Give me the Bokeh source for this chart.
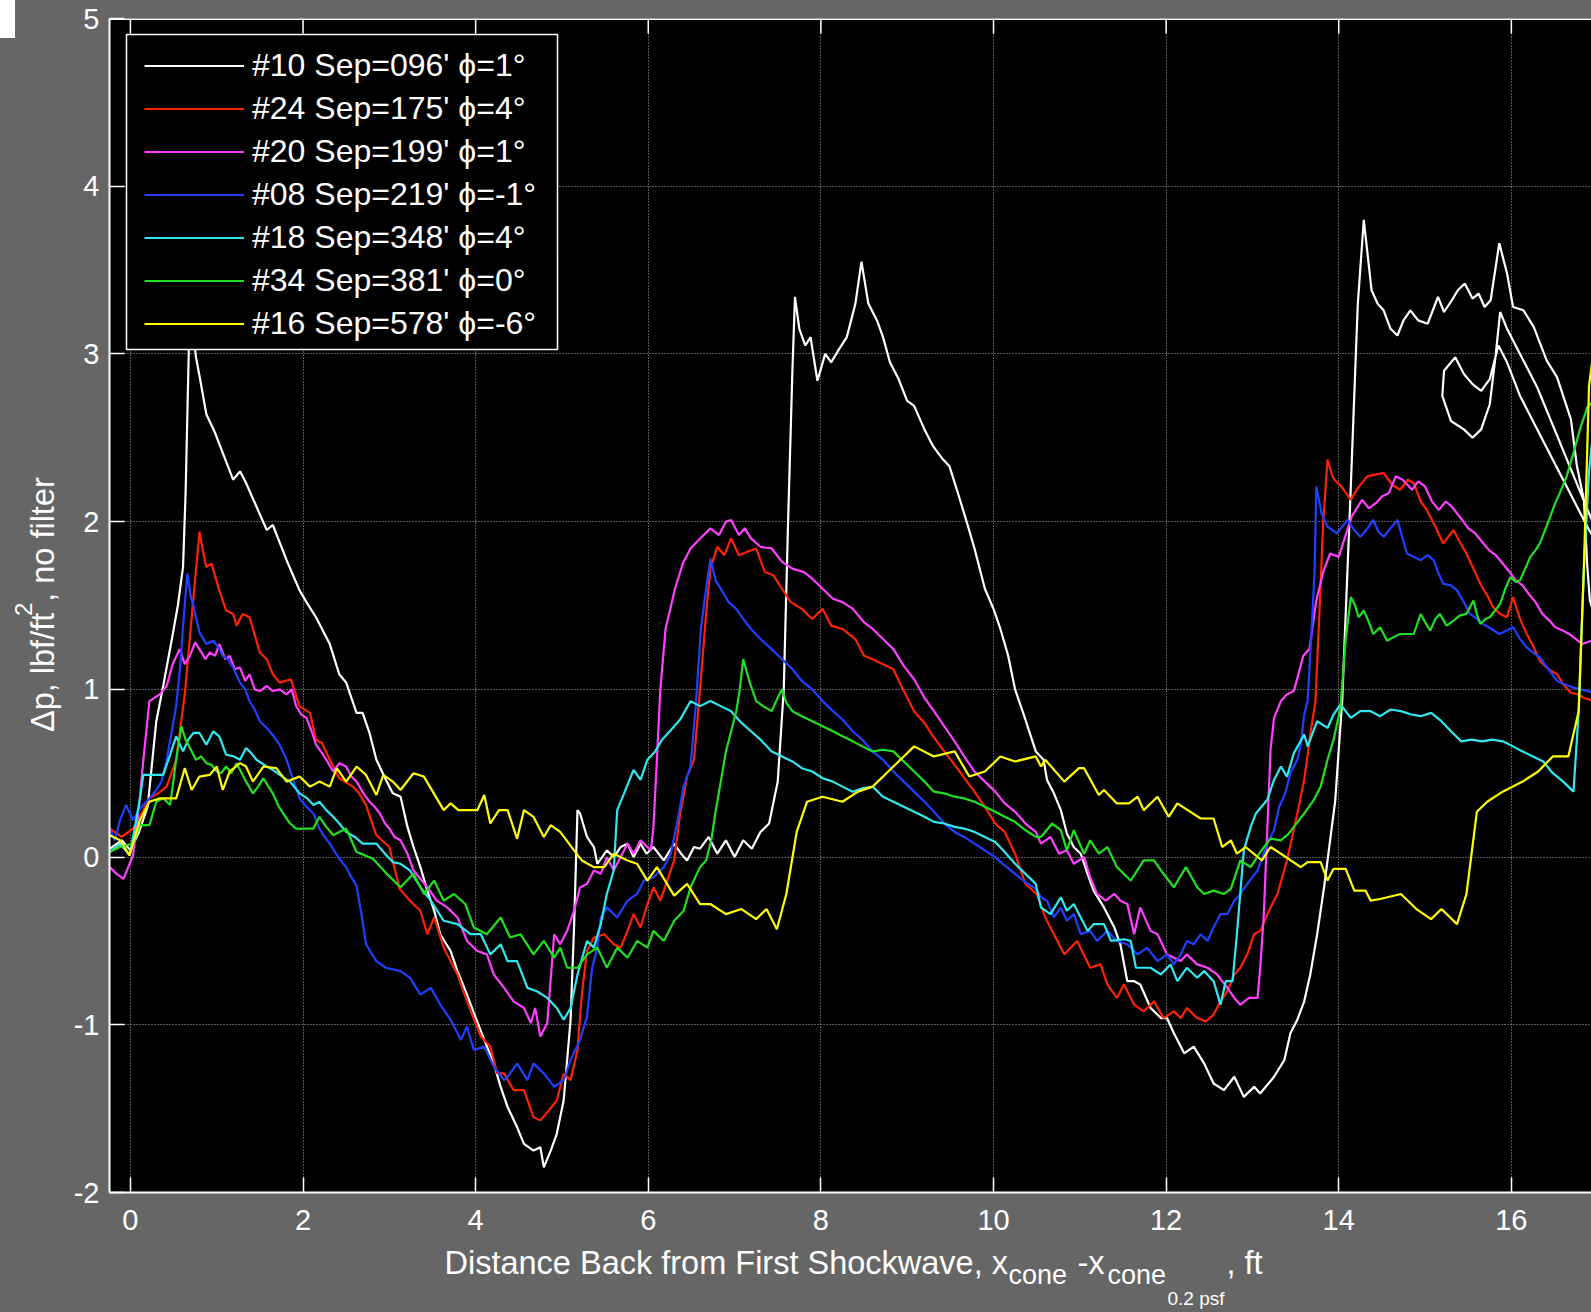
import math
from bokeh.plotting import figure
from bokeh.layouts import column, row
from bokeh.models import (Range1d, FixedTicker, Legend, LegendItem, BoxAnnotation, Span)
from bokeh.core.properties import value
from bokeh.embed import file_html
from bokeh.resources import INLINE

# ---------------- data: [x, dp] pairs ----------------
white_xy = [[-0.24,0.05],[-0.1,0.1],[0.0,0.04],[0.1,0.15],[0.2,0.3],[0.3,0.81],[0.38,1.02],[0.47,1.27],[0.55,1.5],[0.61,1.73],[0.64,2.18],[0.66,2.64],[0.68,3.1],[0.71,3.2],[0.76,2.98],[0.8,2.87],[0.88,2.64],[0.98,2.53],[1.07,2.41],[1.19,2.25],[1.27,2.3],[1.34,2.23],[1.46,2.09],[1.58,1.95],[1.65,1.98],[1.81,1.77],[1.96,1.59],[2.04,1.52],[2.15,1.43],[2.31,1.27],[2.42,1.09],[2.5,1.04],[2.62,0.86],[2.69,0.86],[2.77,0.74],[2.85,0.58],[2.97,0.45],[3.04,0.38],[3.13,0.36],[3.21,0.18],[3.28,0.06],[3.36,-0.06],[3.44,-0.2],[3.52,-0.32],[3.59,-0.46],[3.71,-0.56],[3.79,-0.68],[3.9,-0.82],[3.98,-0.93],[4.1,-1.09],[4.21,-1.23],[4.29,-1.37],[4.37,-1.49],[4.48,-1.61],[4.56,-1.71],[4.67,-1.75],[4.75,-1.73],[4.79,-1.85],[4.87,-1.75],[4.94,-1.65],[5.02,-1.45],[5.06,-1.21],[5.1,-0.97],[5.14,-0.42],[5.18,0.28],[5.21,0.26],[5.29,0.12],[5.37,0.06],[5.41,-0.04],[5.52,0.04],[5.6,0.0],[5.68,0.06],[5.76,0.08],[5.83,0.0],[5.91,0.08],[5.98,0.02],[6.06,0.06],[6.18,-0.02],[6.3,0.08],[6.38,0.02],[6.45,-0.02],[6.53,0.06],[6.6,0.05],[6.7,0.12],[6.8,0.02],[6.9,0.1],[7.0,0.0],[7.1,0.1],[7.2,0.05],[7.3,0.15],[7.4,0.2],[7.5,0.45],[7.57,1.0],[7.62,2.0],[7.67,2.9],[7.7,3.34],[7.75,3.15],[7.82,3.05],[7.88,3.1],[7.96,2.84],[8.05,3.0],[8.12,2.95],[8.2,3.02],[8.3,3.1],[8.4,3.3],[8.47,3.55],[8.55,3.3],[8.65,3.2],[8.72,3.1],[8.8,2.95],[8.9,2.85],[9.0,2.72],[9.08,2.69],[9.2,2.55],[9.3,2.45],[9.4,2.38],[9.49,2.33],[9.6,2.15],[9.7,1.98],[9.78,1.84],[9.9,1.6],[10.0,1.48],[10.08,1.36],[10.17,1.2],[10.25,1.0],[10.35,0.85],[10.49,0.63],[10.58,0.58],[10.62,0.46],[10.7,0.38],[10.78,0.28],[10.85,0.14],[10.93,0.06],[11.01,0.02],[11.09,-0.1],[11.16,-0.2],[11.28,-0.3],[11.4,-0.42],[11.47,-0.52],[11.55,-0.74],[11.63,-0.74],[11.7,-0.76],[11.82,-0.9],[11.94,-0.96],[12.01,-0.96],[12.09,-1.05],[12.21,-1.17],[12.32,-1.13],[12.44,-1.23],[12.55,-1.35],[12.67,-1.39],[12.79,-1.31],[12.9,-1.43],[13.02,-1.37],[13.09,-1.41],[13.25,-1.31],[13.37,-1.21],[13.44,-1.05],[13.52,-0.97],[13.6,-0.86],[13.67,-0.7],[13.75,-0.46],[13.83,-0.18],[13.91,0.14],[13.96,0.34],[14.0,0.64],[14.04,0.93],[14.13,2.08],[14.22,3.29],[14.29,3.8],[14.38,3.38],[14.45,3.3],[14.52,3.26],[14.6,3.15],[14.68,3.11],[14.75,3.2],[14.83,3.26],[14.92,3.2],[15.03,3.18],[15.15,3.34],[15.22,3.25],[15.31,3.32],[15.38,3.38],[15.46,3.42],[15.55,3.33],[15.62,3.36],[15.69,3.28],[15.76,3.32],[15.86,3.66],[15.95,3.48],[16.02,3.28],[16.14,3.26],[16.26,3.16],[16.41,2.96],[16.53,2.86],[16.69,2.61],[16.76,2.33],[16.84,2.13],[16.88,1.73],[16.91,1.53],[17.1,1.2],[17.3,1.5],[17.1,1.8],[16.9,2.05],[16.7,2.3],[16.5,2.55],[16.3,2.8],[16.1,3.0],[15.95,3.15],[15.87,3.25],[15.82,3.0],[15.75,2.7],[15.65,2.55],[15.55,2.5],[15.45,2.55],[15.3,2.6],[15.2,2.75],[15.22,2.9],[15.35,2.98],[15.45,2.88],[15.55,2.82],[15.65,2.78],[15.75,2.85],[15.85,3.05],[15.95,2.95],[16.1,2.75],[16.3,2.55],[16.5,2.35],[16.7,2.15],[16.9,1.95],[17.2,1.7]]

red_xy = [[-0.24,0.17],[-0.1,0.12],[0.03,0.17],[0.12,0.25],[0.22,0.35],[0.32,0.38],[0.42,0.42],[0.53,0.58],[0.63,0.97],[0.71,1.43],[0.8,1.94],[0.85,1.8],[0.88,1.73],[0.94,1.75],[1.03,1.59],[1.11,1.47],[1.19,1.45],[1.23,1.38],[1.3,1.45],[1.38,1.43],[1.5,1.22],[1.58,1.18],[1.65,1.09],[1.73,1.04],[1.86,1.06],[1.96,0.9],[2.08,0.86],[2.15,0.7],[2.22,0.68],[2.31,0.58],[2.42,0.47],[2.58,0.42],[2.65,0.38],[2.73,0.31],[2.85,0.13],[3.0,0.06],[3.12,-0.19],[3.24,-0.26],[3.36,-0.32],[3.44,-0.46],[3.52,-0.36],[3.63,-0.54],[3.79,-0.7],[3.9,-0.86],[4.06,-1.07],[4.17,-1.13],[4.25,-1.29],[4.33,-1.29],[4.44,-1.39],[4.56,-1.39],[4.67,-1.55],[4.75,-1.57],[4.85,-1.51],[4.94,-1.45],[5.02,-1.29],[5.1,-1.33],[5.18,-1.15],[5.23,-0.82],[5.29,-0.56],[5.37,-0.48],[5.49,-0.46],[5.6,-0.52],[5.68,-0.54],[5.76,-0.44],[5.83,-0.34],[5.91,-0.42],[5.99,-0.28],[6.06,-0.18],[6.14,-0.26],[6.22,-0.14],[6.3,-0.02],[6.37,0.26],[6.45,0.48],[6.53,0.58],[6.6,1.0],[6.67,1.45],[6.72,1.72],[6.8,1.85],[6.88,1.8],[6.96,1.9],[7.05,1.8],[7.15,1.82],[7.25,1.84],[7.35,1.7],[7.45,1.68],[7.55,1.6],[7.65,1.52],[7.78,1.48],[7.9,1.42],[8.02,1.48],[8.12,1.38],[8.25,1.36],[8.4,1.3],[8.5,1.2],[8.6,1.18],[8.72,1.15],[8.84,1.12],[8.95,1.0],[9.08,0.87],[9.2,0.8],[9.3,0.72],[9.43,0.63],[9.55,0.55],[9.65,0.48],[9.78,0.39],[9.9,0.3],[10.02,0.2],[10.13,0.15],[10.25,0.02],[10.37,-0.16],[10.5,-0.22],[10.6,-0.36],[10.7,-0.46],[10.82,-0.58],[10.97,-0.5],[11.12,-0.66],[11.24,-0.64],[11.32,-0.76],[11.43,-0.84],[11.51,-0.76],[11.63,-0.88],[11.74,-0.92],[11.86,-0.86],[11.97,-0.96],[12.09,-0.92],[12.17,-0.96],[12.24,-0.9],[12.36,-0.96],[12.46,-0.98],[12.55,-0.94],[12.63,-0.86],[12.71,-0.8],[12.79,-0.7],[12.86,-0.66],[12.94,-0.58],[13.02,-0.46],[13.09,-0.44],[13.21,-0.3],[13.29,-0.22],[13.4,-0.02],[13.52,0.26],[13.6,0.46],[13.67,0.73],[13.73,0.93],[13.78,1.5],[13.82,2.0],[13.87,2.37],[13.92,2.28],[13.95,2.25],[14.03,2.21],[14.14,2.13],[14.22,2.2],[14.33,2.27],[14.42,2.28],[14.52,2.29],[14.62,2.22],[14.71,2.19],[14.8,2.25],[14.87,2.23],[14.95,2.12],[15.02,2.07],[15.12,1.97],[15.21,1.87],[15.33,1.95],[15.4,1.88],[15.48,1.81],[15.56,1.72],[15.64,1.63],[15.72,1.56],[15.79,1.49],[15.87,1.45],[15.95,1.43],[16.02,1.55],[16.1,1.42],[16.18,1.33],[16.26,1.25],[16.33,1.17],[16.43,1.12],[16.53,1.09],[16.6,1.03],[16.69,0.98],[16.77,0.97],[16.84,0.95],[16.95,0.93]]

magenta_xy = [[-0.24,-0.06],[-0.16,-0.1],[-0.08,-0.13],[0.03,0.01],[0.1,0.3],[0.15,0.58],[0.22,0.93],[0.34,0.97],[0.42,1.02],[0.49,1.15],[0.57,1.24],[0.63,1.15],[0.69,1.2],[0.75,1.28],[0.8,1.24],[0.87,1.18],[0.92,1.22],[0.98,1.2],[1.03,1.27],[1.1,1.18],[1.15,1.2],[1.21,1.12],[1.27,1.13],[1.33,1.05],[1.38,1.09],[1.44,1.0],[1.5,0.99],[1.58,1.02],[1.65,0.99],[1.73,1.0],[1.81,0.97],[1.87,1.0],[1.92,0.9],[1.98,0.85],[2.04,0.83],[2.1,0.75],[2.15,0.67],[2.22,0.62],[2.27,0.58],[2.35,0.51],[2.42,0.56],[2.5,0.54],[2.56,0.48],[2.62,0.45],[2.7,0.38],[2.77,0.33],[2.83,0.3],[2.89,0.26],[2.95,0.2],[3.0,0.17],[3.06,0.12],[3.13,0.1],[3.21,0.02],[3.28,-0.08],[3.44,-0.18],[3.55,-0.26],[3.67,-0.3],[3.79,-0.36],[3.9,-0.5],[4.02,-0.56],[4.13,-0.58],[4.21,-0.7],[4.33,-0.78],[4.44,-0.86],[4.56,-0.9],[4.64,-0.99],[4.69,-0.9],[4.75,-1.07],[4.83,-0.99],[4.91,-0.46],[4.98,-0.52],[5.06,-0.44],[5.14,-0.32],[5.21,-0.18],[5.29,-0.16],[5.37,-0.08],[5.45,-0.1],[5.52,0.0],[5.6,-0.08],[5.68,0.0],[5.76,0.08],[5.83,0.02],[5.91,0.1],[6.03,0.04],[6.06,0.18],[6.1,0.58],[6.14,1.0],[6.2,1.36],[6.31,1.6],[6.4,1.75],[6.49,1.84],[6.6,1.9],[6.72,1.96],[6.82,1.92],[6.9,2.0],[6.96,2.01],[7.05,1.92],[7.12,1.96],[7.19,1.9],[7.3,1.85],[7.43,1.84],[7.55,1.76],[7.67,1.72],[7.8,1.7],[7.9,1.66],[8.02,1.6],[8.14,1.54],[8.25,1.52],[8.37,1.48],[8.5,1.4],[8.6,1.36],[8.72,1.3],[8.84,1.24],[8.96,1.14],[9.08,1.06],[9.2,0.95],[9.31,0.87],[9.43,0.78],[9.55,0.69],[9.66,0.6],[9.78,0.51],[9.9,0.45],[10.02,0.39],[10.13,0.32],[10.25,0.27],[10.37,0.2],[10.49,0.15],[10.55,0.08],[10.66,0.12],[10.76,0.02],[10.85,0.04],[10.93,-0.04],[11.05,0.0],[11.12,-0.12],[11.2,-0.22],[11.3,-0.26],[11.4,-0.22],[11.47,-0.26],[11.55,-0.28],[11.63,-0.46],[11.7,-0.3],[11.82,-0.44],[11.9,-0.46],[12.01,-0.58],[12.09,-0.6],[12.17,-0.62],[12.24,-0.58],[12.36,-0.64],[12.48,-0.66],[12.59,-0.7],[12.71,-0.78],[12.79,-0.84],[12.86,-0.88],[12.96,-0.84],[13.06,-0.84],[13.09,-0.66],[13.13,-0.36],[13.17,0.14],[13.21,0.64],[13.25,0.83],[13.33,0.93],[13.4,0.97],[13.48,0.99],[13.59,1.2],[13.66,1.24],[13.74,1.53],[13.82,1.7],[13.9,1.81],[14.0,1.79],[14.08,1.92],[14.15,2.03],[14.27,2.13],[14.35,2.08],[14.43,2.11],[14.5,2.15],[14.58,2.17],[14.66,2.27],[14.74,2.25],[14.85,2.19],[14.92,2.24],[15.0,2.21],[15.08,2.12],[15.16,2.07],[15.24,2.12],[15.31,2.09],[15.43,2.01],[15.5,1.96],[15.58,1.93],[15.66,1.88],[15.74,1.83],[15.82,1.8],[15.9,1.75],[15.98,1.7],[16.05,1.65],[16.13,1.62],[16.2,1.57],[16.28,1.52],[16.36,1.45],[16.44,1.41],[16.51,1.37],[16.6,1.35],[16.67,1.33],[16.75,1.3],[16.82,1.27],[16.93,1.29]]

blue_xy = [[-0.24,0.17],[-0.18,0.1],[-0.12,0.22],[-0.05,0.31],[0.03,0.22],[0.1,0.28],[0.15,0.31],[0.22,0.35],[0.3,0.4],[0.36,0.45],[0.42,0.58],[0.48,0.75],[0.53,0.9],[0.58,1.15],[0.61,1.38],[0.66,1.69],[0.7,1.55],[0.73,1.5],[0.8,1.34],[0.88,1.27],[0.96,1.29],[1.02,1.25],[1.07,1.2],[1.13,1.18],[1.19,1.13],[1.27,1.04],[1.33,1.0],[1.38,0.93],[1.44,0.88],[1.5,0.81],[1.58,0.77],[1.66,0.72],[1.73,0.67],[1.81,0.58],[1.88,0.47],[1.96,0.35],[2.04,0.3],[2.12,0.26],[2.19,0.17],[2.25,0.12],[2.31,0.08],[2.42,-0.01],[2.5,-0.06],[2.56,-0.12],[2.62,-0.17],[2.68,-0.35],[2.73,-0.52],[2.85,-0.62],[2.96,-0.66],[3.13,-0.68],[3.24,-0.72],[3.36,-0.82],[3.48,-0.78],[3.59,-0.88],[3.71,-0.97],[3.83,-1.09],[3.9,-1.01],[3.98,-1.15],[4.1,-1.13],[4.21,-1.25],[4.33,-1.33],[4.4,-1.29],[4.48,-1.23],[4.6,-1.33],[4.67,-1.23],[4.79,-1.29],[4.91,-1.37],[5.02,-1.33],[5.1,-1.21],[5.21,-1.09],[5.29,-0.95],[5.35,-0.66],[5.41,-0.54],[5.45,-0.36],[5.52,-0.3],[5.64,-0.36],[5.76,-0.26],[5.87,-0.22],[5.95,-0.14],[6.06,-0.12],[6.18,-0.06],[6.26,0.02],[6.34,0.22],[6.41,0.42],[6.49,0.54],[6.55,0.9],[6.61,1.36],[6.67,1.6],[6.72,1.78],[6.78,1.65],[6.84,1.6],[6.93,1.52],[7.02,1.48],[7.1,1.42],[7.19,1.36],[7.3,1.3],[7.43,1.24],[7.55,1.18],[7.67,1.12],[7.78,1.05],[7.9,1.0],[8.02,0.93],[8.14,0.87],[8.25,0.82],[8.37,0.75],[8.48,0.7],[8.6,0.63],[8.72,0.58],[8.84,0.51],[8.96,0.45],[9.08,0.39],[9.2,0.33],[9.31,0.27],[9.43,0.2],[9.55,0.15],[9.66,0.12],[9.78,0.08],[9.9,0.04],[10.02,0.0],[10.13,-0.05],[10.25,-0.1],[10.37,-0.15],[10.49,-0.19],[10.55,-0.24],[10.62,-0.26],[10.7,-0.36],[10.78,-0.3],[10.85,-0.38],[10.93,-0.34],[11.01,-0.46],[11.12,-0.44],[11.2,-0.5],[11.32,-0.44],[11.43,-0.5],[11.55,-0.52],[11.67,-0.58],[11.78,-0.54],[11.9,-0.62],[12.01,-0.58],[12.09,-0.64],[12.17,-0.58],[12.24,-0.5],[12.32,-0.52],[12.4,-0.46],[12.48,-0.5],[12.55,-0.42],[12.63,-0.34],[12.71,-0.34],[12.79,-0.26],[12.86,-0.22],[12.94,-0.16],[13.06,-0.08],[13.17,0.08],[13.25,0.16],[13.31,0.3],[13.38,0.38],[13.44,0.5],[13.52,0.58],[13.56,0.67],[13.6,0.85],[13.64,0.93],[13.68,1.3],[13.72,1.7],[13.74,2.21],[13.8,2.05],[13.87,1.97],[13.98,1.93],[14.1,2.01],[14.18,1.95],[14.25,1.91],[14.32,1.95],[14.4,2.01],[14.46,1.94],[14.52,1.91],[14.6,1.96],[14.68,2.01],[14.74,1.9],[14.79,1.81],[14.87,1.79],[14.95,1.77],[15.03,1.8],[15.1,1.77],[15.15,1.7],[15.21,1.63],[15.3,1.62],[15.37,1.59],[15.45,1.52],[15.52,1.45],[15.6,1.42],[15.67,1.39],[15.77,1.36],[15.86,1.33],[15.94,1.35],[16.02,1.37],[16.1,1.3],[16.18,1.25],[16.25,1.22],[16.33,1.19],[16.43,1.12],[16.53,1.05],[16.62,1.03],[16.72,1.01],[16.8,1.0],[16.88,0.99],[16.95,0.98]]

cyan_xy = [[-0.24,0.03],[-0.12,0.08],[-0.01,0.01],[0.06,0.2],[0.11,0.35],[0.15,0.49],[0.25,0.49],[0.38,0.49],[0.46,0.61],[0.53,0.72],[0.61,0.63],[0.67,0.7],[0.73,0.74],[0.8,0.74],[0.88,0.67],[0.96,0.75],[1.03,0.72],[1.11,0.61],[1.2,0.6],[1.27,0.58],[1.34,0.65],[1.4,0.62],[1.46,0.58],[1.58,0.54],[1.65,0.52],[1.73,0.49],[1.85,0.45],[1.96,0.38],[2.05,0.35],[2.12,0.31],[2.19,0.33],[2.27,0.28],[2.35,0.24],[2.42,0.2],[2.5,0.15],[2.6,0.12],[2.69,0.08],[2.85,0.08],[2.95,0.02],[3.04,-0.03],[3.13,-0.04],[3.24,-0.08],[3.36,-0.18],[3.48,-0.26],[3.63,-0.38],[3.79,-0.4],[3.94,-0.46],[4.06,-0.46],[4.17,-0.58],[4.29,-0.52],[4.37,-0.62],[4.48,-0.62],[4.6,-0.78],[4.71,-0.8],[4.83,-0.84],[4.94,-0.9],[5.02,-0.97],[5.1,-0.9],[5.18,-0.7],[5.29,-0.5],[5.37,-0.54],[5.45,-0.4],[5.52,-0.22],[5.6,-0.08],[5.64,0.28],[5.72,0.38],[5.83,0.52],[5.91,0.46],[5.99,0.58],[6.08,0.63],[6.16,0.7],[6.25,0.75],[6.37,0.82],[6.49,0.93],[6.6,0.9],[6.72,0.93],[6.84,0.9],[6.96,0.87],[7.08,0.8],[7.19,0.75],[7.3,0.7],[7.43,0.63],[7.55,0.6],[7.67,0.57],[7.78,0.53],[7.9,0.51],[8.02,0.47],[8.14,0.45],[8.25,0.42],[8.37,0.39],[8.48,0.41],[8.6,0.42],[8.72,0.36],[8.84,0.33],[8.96,0.3],[9.08,0.27],[9.2,0.24],[9.31,0.21],[9.43,0.2],[9.55,0.18],[9.66,0.17],[9.78,0.15],[9.9,0.12],[10.02,0.09],[10.13,0.03],[10.25,-0.04],[10.37,-0.1],[10.49,-0.16],[10.55,-0.3],[10.66,-0.34],[10.78,-0.24],[10.85,-0.32],[10.93,-0.28],[11.09,-0.44],[11.16,-0.4],[11.28,-0.4],[11.36,-0.5],[11.51,-0.49],[11.59,-0.5],[11.65,-0.66],[11.82,-0.66],[11.94,-0.7],[12.05,-0.64],[12.13,-0.74],[12.24,-0.66],[12.36,-0.72],[12.44,-0.68],[12.55,-0.74],[12.63,-0.88],[12.69,-0.74],[12.77,-0.74],[12.82,-0.46],[12.9,0.04],[12.98,0.18],[13.04,0.26],[13.17,0.34],[13.25,0.46],[13.33,0.54],[13.4,0.48],[13.48,0.62],[13.6,0.73],[13.64,0.66],[13.75,0.81],[13.87,0.77],[13.94,0.85],[14.02,0.91],[14.14,0.83],[14.25,0.87],[14.37,0.87],[14.48,0.84],[14.6,0.88],[14.72,0.87],[14.84,0.85],[14.95,0.84],[15.07,0.86],[15.19,0.81],[15.3,0.75],[15.42,0.69],[15.54,0.7],[15.66,0.69],[15.78,0.7],[15.9,0.69],[16.02,0.66],[16.13,0.63],[16.25,0.6],[16.37,0.57],[16.48,0.5],[16.6,0.45],[16.72,0.39],[16.78,0.87],[16.84,1.72],[16.9,2.3],[16.96,2.6]]

green_xy = [[-0.24,0.03],[-0.12,0.06],[0.03,0.08],[0.11,0.19],[0.22,0.19],[0.3,0.33],[0.38,0.35],[0.46,0.31],[0.53,0.58],[0.59,0.78],[0.64,0.7],[0.69,0.65],[0.76,0.58],[0.82,0.6],[0.88,0.56],[0.94,0.55],[1.0,0.51],[1.05,0.5],[1.11,0.54],[1.17,0.5],[1.23,0.56],[1.29,0.5],[1.34,0.45],[1.42,0.38],[1.48,0.42],[1.54,0.47],[1.6,0.42],[1.65,0.38],[1.72,0.3],[1.77,0.26],[1.85,0.2],[1.92,0.17],[2.02,0.17],[2.12,0.17],[2.19,0.24],[2.27,0.18],[2.35,0.13],[2.42,0.15],[2.5,0.17],[2.56,0.1],[2.62,0.03],[2.72,0.01],[2.81,-0.01],[2.9,-0.06],[2.97,-0.1],[3.05,-0.14],[3.13,-0.18],[3.28,-0.1],[3.4,-0.22],[3.52,-0.14],[3.63,-0.26],[3.75,-0.22],[3.88,-0.28],[3.98,-0.42],[4.13,-0.46],[4.29,-0.36],[4.4,-0.48],[4.52,-0.46],[4.67,-0.58],[4.79,-0.5],[4.91,-0.6],[4.98,-0.54],[5.06,-0.66],[5.18,-0.66],[5.29,-0.58],[5.41,-0.54],[5.52,-0.66],[5.64,-0.54],[5.76,-0.6],[5.87,-0.5],[5.99,-0.54],[6.06,-0.44],[6.18,-0.5],[6.3,-0.38],[6.41,-0.32],[6.49,-0.18],[6.6,-0.06],[6.67,-0.02],[6.73,0.1],[6.78,0.27],[6.84,0.45],[6.9,0.63],[6.96,0.75],[7.02,0.87],[7.06,1.0],[7.1,1.18],[7.17,1.05],[7.25,0.93],[7.33,0.9],[7.43,0.87],[7.5,0.95],[7.55,1.0],[7.6,0.92],[7.67,0.87],[7.78,0.84],[7.9,0.81],[8.02,0.78],[8.14,0.75],[8.25,0.72],[8.37,0.69],[8.48,0.66],[8.6,0.63],[8.72,0.64],[8.84,0.63],[8.96,0.57],[9.08,0.51],[9.2,0.45],[9.31,0.39],[9.43,0.38],[9.55,0.36],[9.66,0.35],[9.78,0.33],[9.9,0.3],[10.02,0.27],[10.13,0.24],[10.25,0.21],[10.37,0.16],[10.49,0.12],[10.55,0.12],[10.68,0.2],[10.78,0.16],[10.85,0.04],[10.93,0.16],[11.05,0.02],[11.12,0.1],[11.22,0.02],[11.32,0.06],[11.43,-0.06],[11.59,-0.14],[11.74,-0.02],[11.86,-0.02],[11.94,-0.08],[12.09,-0.18],[12.23,-0.06],[12.36,-0.18],[12.44,-0.22],[12.55,-0.2],[12.67,-0.22],[12.75,-0.19],[12.86,-0.02],[12.98,-0.06],[13.09,0.03],[13.21,0.11],[13.33,0.1],[13.42,0.14],[13.48,0.18],[13.6,0.26],[13.71,0.34],[13.79,0.42],[13.87,0.58],[13.94,0.7],[14.02,0.89],[14.08,1.3],[14.14,1.55],[14.19,1.5],[14.23,1.43],[14.29,1.47],[14.35,1.4],[14.4,1.33],[14.48,1.37],[14.56,1.29],[14.63,1.31],[14.71,1.33],[14.8,1.33],[14.87,1.33],[14.95,1.45],[15.0,1.4],[15.06,1.35],[15.12,1.42],[15.17,1.45],[15.25,1.38],[15.33,1.41],[15.4,1.44],[15.48,1.45],[15.56,1.53],[15.6,1.45],[15.64,1.39],[15.7,1.42],[15.75,1.43],[15.81,1.47],[15.87,1.51],[15.93,1.6],[15.99,1.67],[16.05,1.64],[16.1,1.65],[16.16,1.72],[16.22,1.79],[16.28,1.83],[16.33,1.87],[16.39,1.95],[16.45,2.03],[16.5,2.1],[16.56,2.17],[16.64,2.27],[16.72,2.41],[16.8,2.56],[16.88,2.68],[16.95,2.72]]

yellow_xy = [[-0.24,0.13],[-0.12,0.1],[-0.01,0.01],[0.11,0.22],[0.22,0.33],[0.34,0.35],[0.53,0.35],[0.63,0.53],[0.71,0.4],[0.8,0.48],[0.92,0.49],[1.0,0.54],[1.07,0.4],[1.15,0.51],[1.27,0.56],[1.34,0.54],[1.42,0.45],[1.54,0.54],[1.69,0.53],[1.81,0.45],[1.96,0.48],[2.08,0.42],[2.19,0.45],[2.31,0.42],[2.39,0.53],[2.5,0.45],[2.62,0.54],[2.73,0.49],[2.85,0.37],[2.93,0.49],[3.04,0.45],[3.13,0.4],[3.28,0.5],[3.4,0.48],[3.63,0.28],[3.71,0.32],[3.8,0.28],[4.02,0.28],[4.1,0.37],[4.17,0.2],[4.27,0.28],[4.37,0.28],[4.48,0.11],[4.56,0.28],[4.67,0.24],[4.79,0.12],[4.87,0.19],[4.98,0.15],[5.14,0.04],[5.23,-0.02],[5.37,-0.06],[5.49,-0.06],[5.6,0.02],[5.76,-0.02],[5.87,-0.04],[5.99,-0.14],[6.1,-0.06],[6.3,-0.23],[6.45,-0.16],[6.6,-0.28],[6.72,-0.28],[6.9,-0.34],[7.08,-0.31],[7.25,-0.37],[7.37,-0.31],[7.49,-0.43],[7.6,-0.22],[7.72,0.15],[7.84,0.33],[8.02,0.36],[8.25,0.33],[8.43,0.39],[8.6,0.42],[8.78,0.51],[8.96,0.6],[9.08,0.66],[9.31,0.6],[9.55,0.63],[9.72,0.48],[9.9,0.51],[10.08,0.6],[10.25,0.57],[10.49,0.6],[10.55,0.54],[10.6,0.58],[10.82,0.45],[10.99,0.53],[11.05,0.53],[11.22,0.37],[11.28,0.4],[11.43,0.32],[11.57,0.32],[11.67,0.36],[11.74,0.28],[11.9,0.36],[12.03,0.24],[12.13,0.32],[12.25,0.28],[12.4,0.23],[12.55,0.23],[12.65,0.06],[12.75,0.1],[12.82,0.02],[12.92,0.06],[13.11,-0.02],[13.21,0.06],[13.33,0.02],[13.56,-0.06],[13.64,-0.03],[13.79,-0.03],[13.87,-0.14],[13.94,-0.07],[14.08,-0.07],[14.18,-0.2],[14.31,-0.2],[14.37,-0.26],[14.48,-0.25],[14.72,-0.22],[14.9,-0.31],[15.07,-0.37],[15.19,-0.31],[15.37,-0.4],[15.48,-0.22],[15.6,0.27],[15.72,0.33],[15.9,0.39],[16.13,0.45],[16.31,0.51],[16.48,0.6],[16.66,0.6],[16.78,0.87],[16.84,1.72],[16.9,2.81],[16.96,3.05]]

series_labels = ["#10 Sep=096' \u03d5=1\u00b0", "#24 Sep=175' \u03d5=4\u00b0", "#20 Sep=199' \u03d5=1\u00b0",
                 "#08 Sep=219' \u03d5=-1\u00b0", "#18 Sep=348' \u03d5=4\u00b0", "#34 Sep=381' \u03d5=0\u00b0",
                 "#16 Sep=578' \u03d5=-6\u00b0"]
series_colors = ["#ffffff", "#ff2200", "#ff40ff", "#2040ff", "#30e8f0", "#20e020", "#ffff00"]
series_xy = [white_xy, red_xy, magenta_xy, blue_xy, cyan_xy, green_xy, yellow_xy]

x_ticks = [0, 2, 4, 6, 8, 10, 12, 14, 16]
x_tick_labels = ["0", "2", "4", "6", "8", "10", "12", "14", "16"]
y_ticks = [-2, -1, 0, 1, 2, 3, 4, 5]
y_tick_labels = ["-2", "-1", "0", "1", "2", "3", "4", "5"]

# axis title pieces: (text, left px, vertical centre px, font size)
x_label_parts = [("Distance Back from First Shockwave, x", 444, 1262, "32.5px"),
                 ("cone", 1008, 1274, "27px"),
                 ("-x", 1077, 1262, "32.5px"),
                 ("cone", 1107, 1274, "27px"),
                 ("0.2 psf", 1167, 1298, "19px"),
                 (", ft", 1226, 1262, "32.5px")]
# rotated pieces: (text, centre x px, centre y px, font size)
y_label_parts = [("\u0394p, lbf/ft", 42.5, 694, "32.5px"),
                 ("2", 22.5, 627, "24px"),
                 (", no filter", 42.5, 553, "32.5px")]

# ---------------- layout ----------------
FONT = "Liberation Sans"
GRAY = "#666666"
W, H = 1591, 1312
LW = 62                         # left strip (y title)
MH = 1246                       # main figure height (bottom strip below)
FL, FT, FB = 109, 18, 1192      # frame left / top / bottom (page px)
X0, PXX = -0.2422, 86.31        # x at frame left, px per x unit
Y0, Y1 = -2, 5
PXY = (FB - FT) / (Y1 - Y0)


def dx(px):
    return X0 + (px - FL) / PXX


def dy(py):
    return Y1 - (py - FT) / PXY


p = figure(width=W - LW, height=MH, output_backend="svg", toolbar_location=None,
           x_range=Range1d(X0, dx(W)), y_range=Range1d(Y0, Y1),
           min_border_left=FL - LW, min_border_top=FT, min_border_right=0,
           min_border_bottom=MH - FB,
           background_fill_color="#000000", border_fill_color=GRAY,
           outline_line_color=None)

for ax, ticks, labels in ((p.xaxis[0], x_ticks, x_tick_labels), (p.yaxis[0], y_ticks, y_tick_labels)):
    ax.ticker = FixedTicker(ticks=ticks)
    ax.major_label_overrides = {t: l for t, l in zip(ticks, labels)}
    ax.axis_line_color = "white"
    ax.axis_line_width = 2
    ax.major_tick_line_color = "white"
    ax.major_tick_line_width = 1.5
    ax.major_tick_in = 15
    ax.major_tick_out = 0
    ax.minor_tick_line_color = None
    ax.major_label_text_color = "white"
    ax.major_label_text_font = FONT
    ax.major_label_text_font_size = "29px"
p.xaxis[0].major_label_standoff = 17
p.yaxis[0].major_label_standoff = 10

p.xgrid.ticker = FixedTicker(ticks=x_ticks)
p.ygrid.ticker = FixedTicker(ticks=y_ticks)
p.grid.grid_line_color = "#b0b0b0"
p.grid.grid_line_dash = "1 2"
p.grid.grid_line_width = 1

# top border line and inward top ticks (box-style axes)
p.add_layout(Span(location=Y1, dimension="width", line_color="white", line_width=3))
p.segment(x0=x_ticks, y0=[Y1] * len(x_ticks), x1=x_ticks, y1=[Y1 - 15 / PXY] * len(x_ticks),
          line_color="white", line_width=1.5)

renderers = []
for pts, c in zip(series_xy, series_colors):
    xs = [pt[0] for pt in pts]
    ys = [pt[1] for pt in pts]
    renderers.append(p.line(xs, ys, line_color=c, line_width=2.2))

# legend box (opaque) then legend on top
box = BoxAnnotation(left=dx(126), right=dx(557), top=dy(34), bottom=dy(349),
                    fill_color="#000000", fill_alpha=1.0, line_color="white",
                    line_width=1.5, line_alpha=1.0)
p.add_layout(box)

legend = Legend(items=[LegendItem(label=l, renderers=[r]) for l, r in zip(series_labels, renderers)],
                location=(35, 847), padding=4, spacing=0, margin=0,
                glyph_width=100, glyph_height=43, label_height=43, label_standoff=8,
                label_text_font=FONT, label_text_font_size="32px", label_text_color="white",
                background_fill_alpha=0, border_line_color=None)
p.add_layout(legend)


def strip(w, h, xr, yr):
    f = figure(width=w, height=h, output_backend="svg", toolbar_location=None,
               x_range=xr, y_range=yr, x_axis_location=None, y_axis_location=None,
               min_border=0, background_fill_color=GRAY, border_fill_color=GRAY,
               outline_line_color=None)
    f.grid.visible = False
    return f


# left strip: y-axis title (coordinates are page pixels)
left = strip(LW, MH, Range1d(0, LW), Range1d(MH, 0))
for t, px, py, fs in y_label_parts:
    left.text(x=[px], y=[py], text=[t], angle=math.pi / 2, text_font=value(FONT),
              text_font_size=value(fs), text_color="white", text_align="center",
              text_baseline="middle")

# bottom strip: x-axis title (coordinates are page pixels)
bottom = strip(W, H - MH, Range1d(0, W), Range1d(H, MH))
for t, px, py, fs in x_label_parts:
    bottom.text(x=[px], y=[py], text=[t], text_font=value(FONT),
                text_font_size=value(fs), text_color="white", text_align="left",
                text_baseline="middle")

layout = column(row(left, p, spacing=0), bottom, spacing=0)

TEMPLATE = """
{% block postamble %}
<style>
html, body { margin: 0 !important; padding: 0 !important; background-color: #666666 !important; overflow: hidden; }
body::before { content: ""; position: fixed; left: 0; top: 0; width: 15px; height: 38px; background: #ffffff; z-index: 10; }
</style>
{% endblock %}
"""

html = file_html(layout, INLINE, title="Delta p vs distance", template=TEMPLATE)
with open("out.html", "w") as f:
    f.write(html)
